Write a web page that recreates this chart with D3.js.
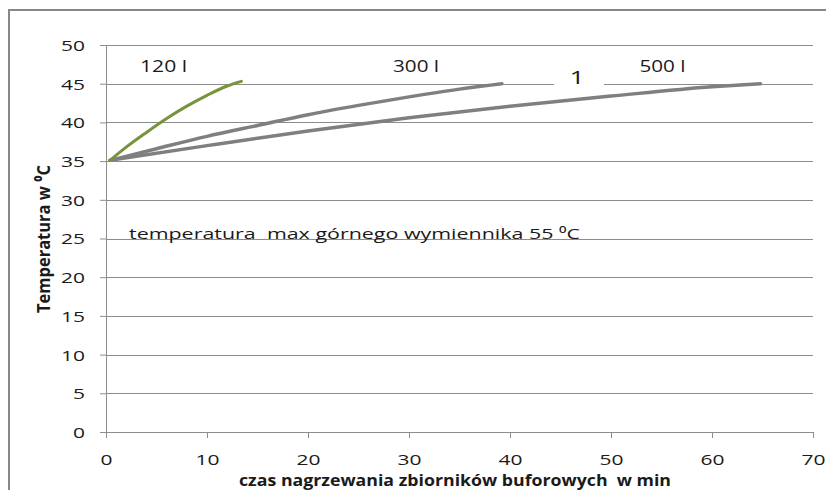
<!DOCTYPE html>
<html><head><meta charset="utf-8">
<script src="https://cdn.jsdelivr.net/npm/d3@7"></script>
<style>
body{margin:0;background:#fff;}
svg{display:block;}
text{font-family:"Open Sans",sans-serif;fill:#1a1a1a;white-space:pre;}
</style>
</head><body>
<svg id="c" width="826" height="490"></svg>
<script>
// ---- data ----
const xTicks = [0, 10, 20, 30, 40, 50, 60, 70];
const yTicks = [0, 5, 10, 15, 20, 25, 30, 35, 40, 45, 50];
const t120 = [0.4, 2, 4, 6, 8, 10, 12, 13.4];
const v120 = [35.1, 36.8, 38.7, 40.5, 42.1, 43.5, 44.7, 45.3];
const t300 = [0.4, 5, 10, 15, 20, 25, 30, 35, 39.2];
const v300 = [35.1, 36.6, 38.2, 39.6, 41.0, 42.2, 43.3, 44.3, 45.0];
const t500 = [0.4, 10, 20, 30, 40, 50, 60, 64.8];
const v500 = [35.1, 37.0, 38.9, 40.6, 42.1, 43.4, 44.6, 45.0];
const seriesNames = ["120 l", "300 l", "500 l"];
const extraLabel = "1";
const xTitle = "czas nagrzewania zbiorników buforowych  w min";
const yTitle = "Temperatura w \u2070C";
const note = "temperatura  max górnego wymiennika 55 \u2070C";

// ---- layout ----
const svg = d3.select("#c");
const x = d3.scaleLinear().domain([0, 70]).range([106, 813]);
const y = d3.scaleLinear().domain([0, 50]).range([432, 45]);
const SX = 1.4; // horizontal glyph stretch of the original

function stretch(sel, sx) {
  sel.each(function () {
    const t = d3.select(this);
    const x0 = +t.attr("x") || 0;
    t.attr("x", x0 / sx).attr("transform", `scale(${sx},1)`);
  });
}

// frame
svg.append("path")
  .attr("d", "M9,490 L9,10 L826,10")
  .attr("fill", "none").attr("stroke", "#878787").attr("stroke-width", 2);

// gridlines
svg.append("g").selectAll("line").data(yTicks.filter(d => d > 0)).join("line")
  .attr("x1", x(0)).attr("x2", x(70))
  .attr("y1", d => Math.round(y(d)) + 0.5).attr("y2", d => Math.round(y(d)) + 0.5)
  .attr("stroke", "#8c8c8c").attr("stroke-width", 1);

// axes
const gy = svg.append("g").attr("transform", `translate(${x(0)},0)`)
  .call(d3.axisLeft(y).tickValues(yTicks).tickSize(6).tickSizeOuter(0).tickPadding(15));
const gx = svg.append("g").attr("transform", `translate(0,${y(0)})`)
  .call(d3.axisBottom(x).tickValues(xTicks).tickSize(6).tickSizeOuter(0).tickPadding(16));
[gx, gy].forEach(g => {
  g.select(".domain").attr("stroke", "#8c8c8c");
  g.selectAll(".tick line").attr("stroke", "#8c8c8c");
  g.selectAll(".tick text").attr("font-family", "Open Sans").attr("font-size", 15).attr("fill", "#1a1a1a");
  stretch(g.selectAll(".tick text"), SX);
});
gy.selectAll(".tick text").attr("dy", "0.36em");

// series
const line = d3.line().x(d => x(d[0])).y(d => y(d[1])).curve(d3.curveMonotoneX);
const mk = (t, v) => t.map((d, i) => [d, v[i]]);
const series = [
  { pts: mk(t500, v500), color: "#7f7f7f", w: 3.5 },
  { pts: mk(t300, v300), color: "#7f7f7f", w: 3.5 },
  { pts: mk(t120, v120), color: "#77933c", w: 3 }
];
svg.append("g").selectAll("path").data(series).join("path")
  .attr("d", d => line(d.pts))
  .attr("fill", "none").attr("stroke", d => d.color).attr("stroke-width", d => d.w)
  .attr("stroke-linecap", "round").attr("stroke-linejoin", "round");

// series labels
const labelPos = [[5.7, 46.5, 47], [30.7, 46.5, 46], [55.1, 46.5, 46]];
svg.append("g").selectAll("text").data(seriesNames).join("text")
  .attr("x", (d, i) => x(labelPos[i][0])).attr("y", (d, i) => y(labelPos[i][1]))
  .attr("text-anchor", "middle").attr("font-size", 16)
  .attr("textLength", (d, i) => labelPos[i][2]).attr("lengthAdjust", "spacingAndGlyphs")
  .text(d => d);

// "1" label with white box
svg.append("rect").attr("x", 554).attr("y", 69).attr("width", 50).attr("height", 19).attr("fill", "#fff");
svg.append("text").attr("x", 577 / SX).attr("y", 84.5).attr("transform", `scale(${SX},1)`)
  .attr("text-anchor", "middle").attr("font-size", 19).text(extraLabel);

// note
svg.append("text").attr("x", 129).attr("y", 238.5).attr("font-size", 15)
  .attr("textLength", 451).attr("lengthAdjust", "spacingAndGlyphs").text(note);

// axis titles
svg.append("text").attr("x", 455).attr("y", 486).attr("text-anchor", "middle")
  .attr("font-size", 16.5).attr("font-weight", "bold")
  .attr("textLength", 432).attr("lengthAdjust", "spacingAndGlyphs").text(xTitle);
svg.append("text").attr("transform", "translate(50,239) rotate(-90) scale(1,1.2)")
  .attr("text-anchor", "middle").attr("font-size", 15.5).attr("font-weight", "bold")
  .attr("textLength", 148).attr("lengthAdjust", "spacingAndGlyphs").text(yTitle);
</script>
</body></html>
